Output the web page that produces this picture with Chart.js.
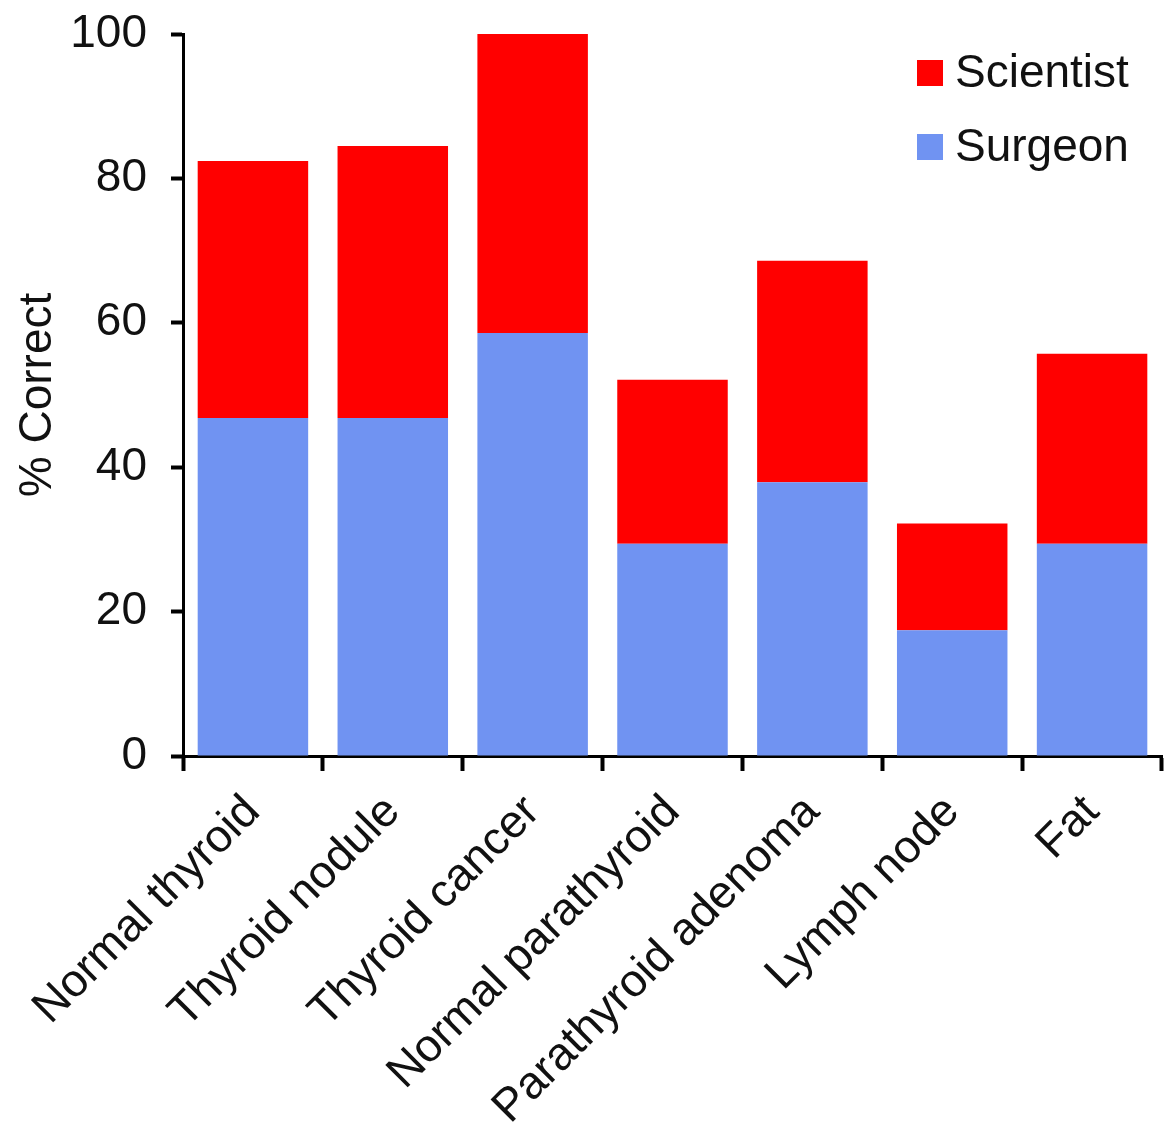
<!DOCTYPE html>
<html>
<head>
<meta charset="utf-8">
<script src="https://cdn.jsdelivr.net/npm/chart.js@4.4.0/dist/chart.umd.min.js"></script>
<style>
  html, body { margin: 0; padding: 0; background: #ffffff; }
  #wrap { width: 1169px; height: 1131px; }
</style>
</head>
<body>
<div id="wrap"><canvas id="c" width="1169" height="1131"></canvas></div>
<script>
const categories = ["Normal thyroid", "Thyroid nodule", "Thyroid cancer", "Normal parathyroid", "Parathyroid adenoma", "Lymph node", "Fat"];
const surgeonValues = [46.8, 46.8, 58.6, 29.4, 37.9, 17.4, 29.4];
const scientistValues = [35.6, 37.7, 41.4, 22.7, 30.7, 14.8, 26.3];
const yTicks = [0, 20, 40, 60, 80, 100];
const seriesNames = ["Surgeon", "Scientist"];

const FONT = "'Liberation Sans', Arial, sans-serif";
const TEXT = "#111111";

const legendPlugin = {
  id: 'insideLegend',
  afterDraw(chart) {
    const ctx = chart.ctx;
    const area = chart.chartArea;
    const ds = chart.data.datasets.slice().reverse();
    ctx.save();
    ctx.font = "46px " + FONT;
    ctx.textBaseline = 'middle';
    ctx.textAlign = 'left';
    const boxX = area.right - 245;
    ds.forEach((d, i) => {
      const cy = 73 + i * 74;
      ctx.fillStyle = d.backgroundColor;
      ctx.fillRect(boxX, cy - 13, 26, 26);
      ctx.fillStyle = TEXT;
      ctx.fillText(d.label, boxX + 38, cy + 1);
    });
    ctx.restore();
  }
};

new Chart(document.getElementById('c'), {
  type: 'bar',
  data: {
    labels: categories,
    datasets: [
      { label: seriesNames[0], data: surgeonValues, backgroundColor: '#7093f2', borderWidth: 0 },
      { label: seriesNames[1], data: scientistValues, backgroundColor: '#ff0000', borderWidth: 0 }
    ]
  },
  options: {
    responsive: false,
    animation: false,
    devicePixelRatio: 1,
    layout: { padding: { top: 34, right: 7, bottom: 0, left: 0 } },
    plugins: { legend: { display: false }, tooltip: { enabled: false } },
    datasets: { bar: { categoryPercentage: 1.0, barPercentage: 0.79 } },
    scales: {
      x: {
        stacked: true,
        afterFit(scale) { scale.height = 1131 - 756; scale.paddingLeft = 0; scale.paddingRight = 0; },
        grid: { display: true, drawOnChartArea: false, drawTicks: true, tickLength: 15, tickWidth: 4, tickColor: '#000', offset: true },
        border: { display: true, color: '#000', width: 3 },
        ticks: { color: TEXT, font: { family: FONT, size: 46 }, minRotation: 45, maxRotation: 45, padding: 14, autoSkip: false }
      },
      y: {
        stacked: true,
        min: 0, max: 100,
        afterFit(scale) { scale.width = 183; scale.paddingTop = 0; scale.paddingBottom = 0; },
        afterBuildTicks(scale) { scale.ticks = yTicks.map(v => ({ value: v })); },
        grid: { display: true, drawOnChartArea: false, drawTicks: true, tickLength: 12, tickWidth: 4, tickColor: '#000' },
        border: { display: true, color: '#000', width: 3 },
        ticks: { color: TEXT, font: { family: FONT, size: 46 }, padding: 24 },
        title: { display: true, text: '% Correct', color: TEXT, font: { family: FONT, size: 46 }, padding: { top: 11, bottom: 0 } }
      }
    }
  },
  plugins: [legendPlugin]
});
</script>
</body>
</html>
